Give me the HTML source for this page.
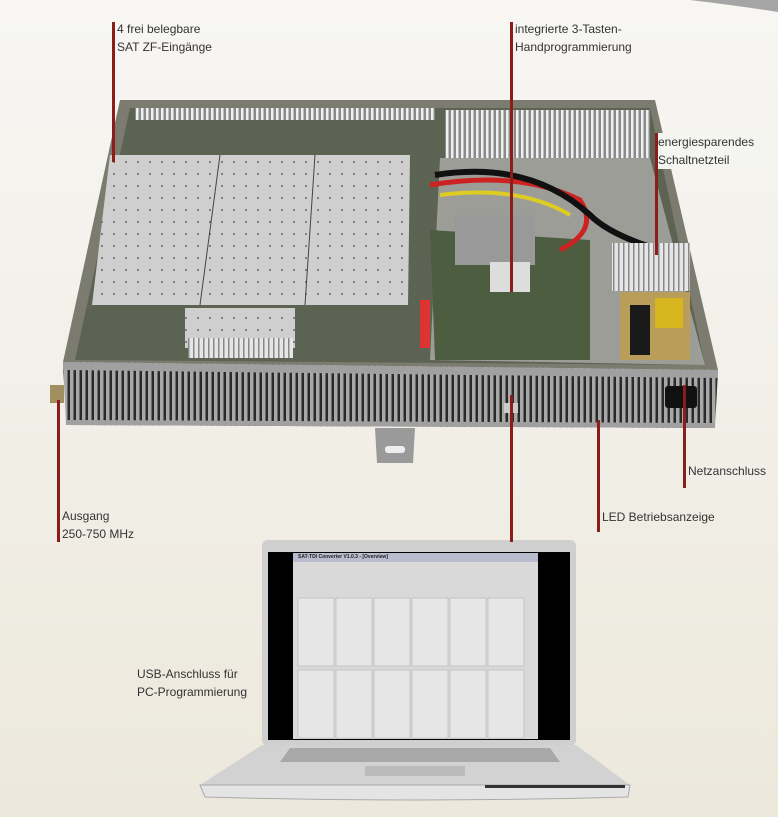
<!DOCTYPE html>
<html><head><meta charset="utf-8"><style>
body{margin:0;width:778px;height:817px;overflow:hidden;background:linear-gradient(#f7f6f3,#ece8dc);font-family:"Liberation Sans",sans-serif;position:relative}
.t{position:absolute;font-size:12px;line-height:18px;color:#333}
.l{position:absolute;width:3px;background:#8b1d1a}
</style></head><body>
<svg width="778" height="817" style="position:absolute;left:0;top:0">
<defs>
<pattern id="vent" width="6" height="10" patternUnits="userSpaceOnUse"><rect width="6" height="10" fill="#a8a8a8"/><rect x="1.5" width="2.5" height="10" fill="#2a2a2a"/></pattern>
<pattern id="vw" width="5" height="10" patternUnits="userSpaceOnUse"><rect width="5" height="10" fill="#8a8a8a"/><rect x="1" width="2.5" height="10" fill="#f0f0f0"/></pattern>
<pattern id="dots" width="12" height="12" patternUnits="userSpaceOnUse"><rect width="12" height="12" fill="#cfcfcf"/><circle cx="6" cy="6" r="1" fill="#666"/></pattern>
<pattern id="fin" width="5" height="10" patternUnits="userSpaceOnUse"><rect width="5" height="10" fill="#e6e6e6"/><rect x="3" width="1.5" height="10" fill="#888"/></pattern>
</defs>
<path d="M690 0 L778 0 L778 12 Q740 6 690 0Z" fill="#a5a5a5"/>
<!-- case -->
<polygon points="120,100 655,100 718,370 63,362" fill="#7b7b70"/>
<polygon points="130,108 650,108 705,365 75,360" fill="#5d6352"/>
<rect x="135" y="108" width="300" height="12" fill="url(#vw)"/>
<rect x="445" y="110" width="205" height="48" fill="url(#vw)"/>
<polygon points="440,158 650,158 705,365 430,360" fill="#9d9d98"/>
<polygon points="430,230 590,240 590,360 435,360" fill="#4d5d40"/>
<polygon points="110,155 410,155 408,305 92,305" fill="url(#dots)"/>
<line x1="220" y1="155" x2="200" y2="305" stroke="#444"/>
<line x1="315" y1="155" x2="305" y2="305" stroke="#444"/>
<rect x="185" y="308" width="110" height="40" fill="url(#dots)"/>
<rect x="188" y="338" width="105" height="20" fill="url(#fin)"/>
<path d="M430 185 Q520 170 580 200 Q600 230 560 250" stroke="#c22" stroke-width="5" fill="none"/>
<path d="M440 195 Q520 185 570 215" stroke="#dc2" stroke-width="4" fill="none"/>
<path d="M435 175 Q530 160 590 215 Q610 235 660 250" stroke="#111" stroke-width="6" fill="none"/>
<rect x="455" y="215" width="80" height="50" fill="#999"/>
<rect x="490" y="262" width="40" height="30" fill="#ddd"/>
<rect x="420" y="300" width="10" height="48" fill="#d33"/>
<rect x="612" y="243" width="78" height="48" fill="url(#fin)"/>
<rect x="620" y="292" width="70" height="68" fill="#b89e58"/>
<rect x="655" y="298" width="28" height="30" fill="#d6b61e"/>
<rect x="630" y="305" width="20" height="50" fill="#1a1a1a"/>
<polygon points="63,362 718,370 715,428 66,425" fill="url(#vent)"/>
<polygon points="63,362 718,370 718,378 63,370" fill="#a0a0a0"/>
<polygon points="66,420 715,423 715,428 66,425" fill="#a0a0a0"/>
<rect x="665" y="386" width="32" height="22" rx="3" fill="#111"/>
<rect x="504" y="403" width="14" height="10" fill="#ccc"/>
<rect x="50" y="385" width="14" height="18" fill="#a09060"/>
<polygon points="375,428 415,428 413,463 377,463" fill="#9a9a9a"/>
<rect x="385" y="446" width="20" height="7" rx="3" fill="#eee"/>
<rect x="262" y="540" width="314" height="206" rx="6" fill="#cfcfcf"/>
<rect x="268" y="552" width="302" height="188" fill="#000"/>
<rect x="293" y="553" width="245" height="186" fill="#d9d9d9"/>
<rect x="293" y="553" width="245" height="9" fill="#b8bccc"/>
<g fill="#e6e6e6" stroke="#aaa" stroke-width="0.5">
<rect x="298" y="598" width="36" height="68"/><rect x="336" y="598" width="36" height="68"/><rect x="374" y="598" width="36" height="68"/><rect x="412" y="598" width="36" height="68"/><rect x="450" y="598" width="36" height="68"/><rect x="488" y="598" width="36" height="68"/>
<rect x="298" y="670" width="36" height="68"/><rect x="336" y="670" width="36" height="68"/><rect x="374" y="670" width="36" height="68"/><rect x="412" y="670" width="36" height="68"/><rect x="450" y="670" width="36" height="68"/><rect x="488" y="670" width="36" height="68"/>
</g>
<polygon points="262,745 576,745 630,785 200,785" fill="#d2d2d2"/>
<polygon points="290,748 550,748 560,762 280,762" fill="#a8a8a8"/>
<rect x="365" y="766" width="100" height="10" fill="#bbb"/>
<path d="M200 785 L630 785 L628 797 Q415 803 205 797Z" fill="#e4e4e4" stroke="#aaa"/>
<rect x="485" y="785" width="140" height="3" fill="#333"/>
</svg>
<div class="l" style="left:112px;top:22px;height:140px"></div>
<div class="t" style="left:117px;top:20px">4 frei belegbare<br>SAT ZF-Eingänge</div>
<div class="l" style="left:510px;top:22px;height:270px"></div>
<div class="t" style="left:515px;top:20px">integrierte 3-Tasten-<br>Handprogrammierung</div>
<div class="l" style="left:655px;top:133px;height:122px"></div>
<div class="t" style="left:658px;top:133px;background:#f4f4f0;padding-right:8px">energiesparendes<br>Schaltnetzteil</div>
<div class="l" style="left:57px;top:400px;height:142px"></div>
<div class="t" style="left:62px;top:507px">Ausgang<br>250-750 MHz</div>
<div class="l" style="left:510px;top:395px;height:147px"></div>
<div class="l" style="left:597px;top:420px;height:112px"></div>
<div class="t" style="left:602px;top:508px">LED Betriebsanzeige</div>
<div class="l" style="left:683px;top:385px;height:103px"></div>
<div class="t" style="left:688px;top:462px">Netzanschluss</div>
<div class="t" style="left:137px;top:665px">USB-Anschluss für<br>PC-Programmierung</div>
<div style="position:absolute;left:298px;top:554px;font:bold 5px 'Liberation Sans';color:#222">SAT-TDI Converter V1.0.3 - [Overview]</div>
</body></html>
